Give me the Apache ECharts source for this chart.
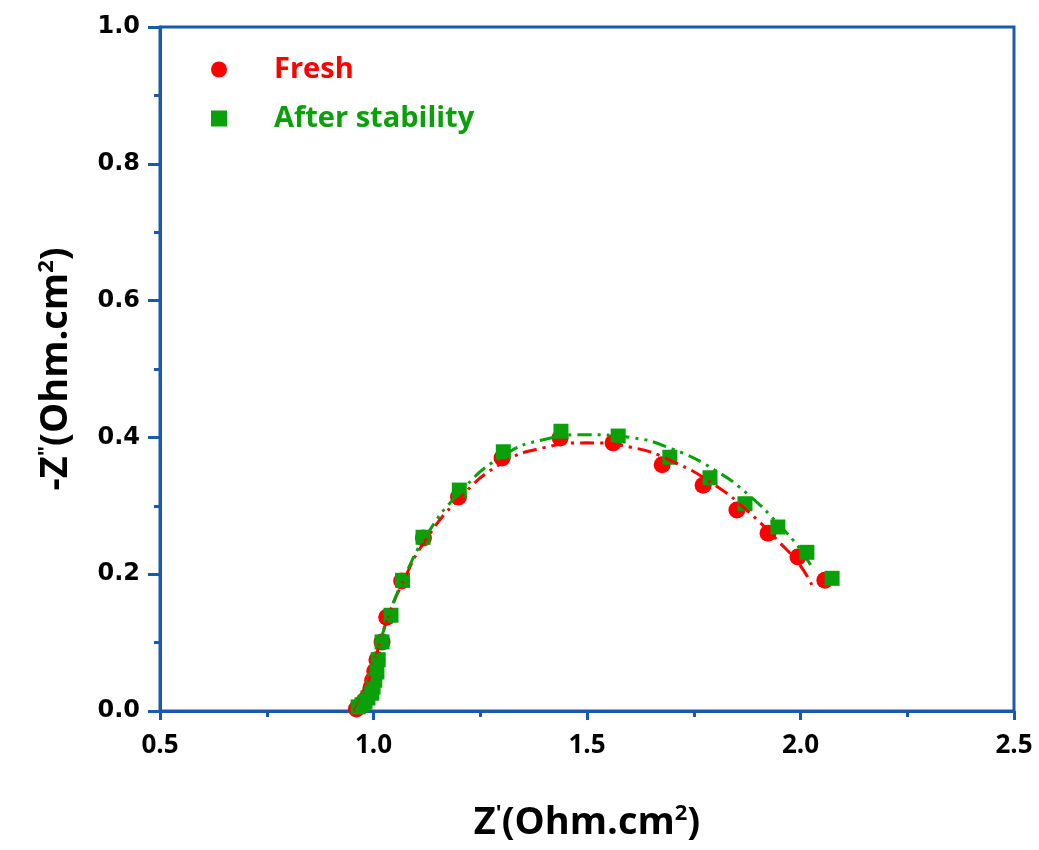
<!DOCTYPE html>
<html>
<head>
<meta charset="utf-8">
<script src="https://cdn.jsdelivr.net/npm/echarts@6/dist/echarts.min.js"></script>
<style>
  html, body { margin: 0; padding: 0; background: #fff; }
  #chart { width: 1039px; height: 850px; }
</style>
</head>
<body>
<div id="chart"></div>
<script>
// measured points, [Z', -Z'']
var freshPts = [
  [0.960, 0.003], [0.968, 0.007], [0.975, 0.012], [0.983, 0.018], [0.990, 0.025],
  [0.994, 0.034], [0.998, 0.045], [1.003, 0.058], [1.008, 0.075], [1.020, 0.101],
  [1.031, 0.137], [1.066, 0.190], [1.117, 0.253], [1.199, 0.313], [1.301, 0.370],
  [1.437, 0.399], [1.561, 0.392], [1.676, 0.360], [1.772, 0.330], [1.851, 0.294],
  [1.924, 0.260], [1.994, 0.225], [2.057, 0.191]
];
var stablePts = [
  [0.964, 0.006], [0.973, 0.009], [0.980, 0.013], [0.987, 0.019], [0.996, 0.026],
  [0.999, 0.035], [1.003, 0.045], [1.008, 0.057], [1.011, 0.075], [1.020, 0.101],
  [1.041, 0.140], [1.068, 0.191], [1.116, 0.254], [1.201, 0.323], [1.304, 0.379],
  [1.439, 0.409], [1.573, 0.402], [1.694, 0.371], [1.788, 0.341], [1.870, 0.303],
  [1.947, 0.269], [2.015, 0.232], [2.074, 0.194]
];
// fitted curves
var freshFit = [
  [0.955, 0.000], [0.980, 0.030], [1.000, 0.068], [1.030, 0.130], [1.070, 0.190],
  [1.120, 0.248], [1.200, 0.310], [1.300, 0.362], [1.400, 0.385], [1.500, 0.392],
  [1.600, 0.386], [1.700, 0.365], [1.800, 0.330], [1.880, 0.290], [1.950, 0.247],
  [2.000, 0.212], [2.029, 0.181]
];
var stableFit = [
  [0.958, 0.000], [0.982, 0.032], [1.002, 0.070], [1.032, 0.133], [1.072, 0.195],
  [1.122, 0.255], [1.200, 0.318], [1.300, 0.372], [1.400, 0.397], [1.500, 0.404],
  [1.600, 0.400], [1.700, 0.383], [1.800, 0.352], [1.880, 0.315], [1.950, 0.272],
  [2.000, 0.236], [2.030, 0.206]
];
var xTicks = { min: 0.5, max: 2.5, step: 0.5 };
var yTicks = { min: 0, max: 1.0, step: 0.2 };

var blue = '#1a5aad';
var red = '#ff0000';
var green = '#0aa00a';

var titleStyle = {
  fontFamily: 'Open Sans', fontWeight: 'bold', fontSize: 38, color: '#000',
  rich: {
    sup: {
      fontFamily: 'Open Sans', fontWeight: 'bold', fontSize: 22, color: '#000',
      verticalAlign: 'top', padding: [0, 0, 18, 0]
    }
  }
};

var chart = echarts.init(document.getElementById('chart'));
chart.setOption({
  animation: false,
  grid: {
    left: 160, right: 25, top: 27, bottom: 139,
    show: true, borderColor: blue, borderWidth: 3
  },
  legend: {
    orient: 'vertical',
    left: 206, top: 50,
    itemWidth: 16, itemHeight: 16,
    itemGap: 20,
    data: [
      { name: 'Fresh', icon: 'circle', textStyle: { color: red } },
      { name: 'After stability', icon: 'rect', itemStyle: { color: green },
        textStyle: { color: green } }
    ],
    textStyle: {
      fontFamily: 'Open Sans', fontWeight: 'bold', fontSize: 29,
      padding: [0, 0, 0, 42]
    }
  },
  xAxis: {
    type: 'value',
    min: xTicks.min, max: xTicks.max, interval: xTicks.step,
    name: "Z{sup|'}(Ohm.cm{sup|2})",
    nameLocation: 'middle', nameGap: 92,
    nameTextStyle: titleStyle,
    axisLine: { show: true, lineStyle: { color: blue, width: 3 } },
    axisTick: { show: true, inside: false, length: 9, lineStyle: { color: blue, width: 3 } },
    minorTick: { show: true, splitNumber: 2, length: 6, lineStyle: { color: blue, width: 3 } },
    splitLine: { show: false },
    axisLabel: {
      fontFamily: 'Open Sans', fontWeight: 'bold', fontSize: 26, color: '#000', margin: 22,
      formatter: function (v) { return v.toFixed(1); }
    }
  },
  yAxis: {
    type: 'value',
    min: yTicks.min, max: yTicks.max, interval: yTicks.step,
    name: '-Z{sup|"}(Ohm.cm{sup|2})',
    nameLocation: 'middle', nameGap: 84, nameRotate: 90,
    nameTextStyle: titleStyle,
    axisLine: { show: true, lineStyle: { color: blue, width: 3 } },
    axisTick: { show: true, inside: false, length: 12, lineStyle: { color: blue, width: 3 } },
    minorTick: { show: true, splitNumber: 2, length: 6, lineStyle: { color: blue, width: 3 } },
    splitLine: { show: false },
    axisLabel: {
      fontFamily: 'DejaVu Sans', fontWeight: 'bold', fontSize: 24, color: '#000', margin: 20,
      formatter: function (v) { return v.toFixed(1); }
    }
  },
  series: [
    {
      name: 'Fresh', type: 'scatter', data: freshPts,
      symbol: 'circle', symbolSize: 17,
      itemStyle: { color: red, opacity: 1 }, z: 2
    },
    {
      name: 'After stability', type: 'scatter', data: stablePts,
      symbol: 'rect', symbolSize: 15,
      itemStyle: { color: green, opacity: 1 }, z: 3
    },
    {
      name: 'Fresh fit', type: 'line', data: freshFit, smooth: true,
      showSymbol: false, symbol: 'none', z: 4,
      lineStyle: { color: red, width: 3, type: [14, 6, 3, 6] }
    },
    {
      name: 'After stability fit', type: 'line', data: stableFit, smooth: true,
      showSymbol: false, symbol: 'none', z: 5,
      lineStyle: { color: green, width: 3, type: [14, 6, 3, 6, 3, 6] }
    }
  ]
});
</script>
</body>
</html>
